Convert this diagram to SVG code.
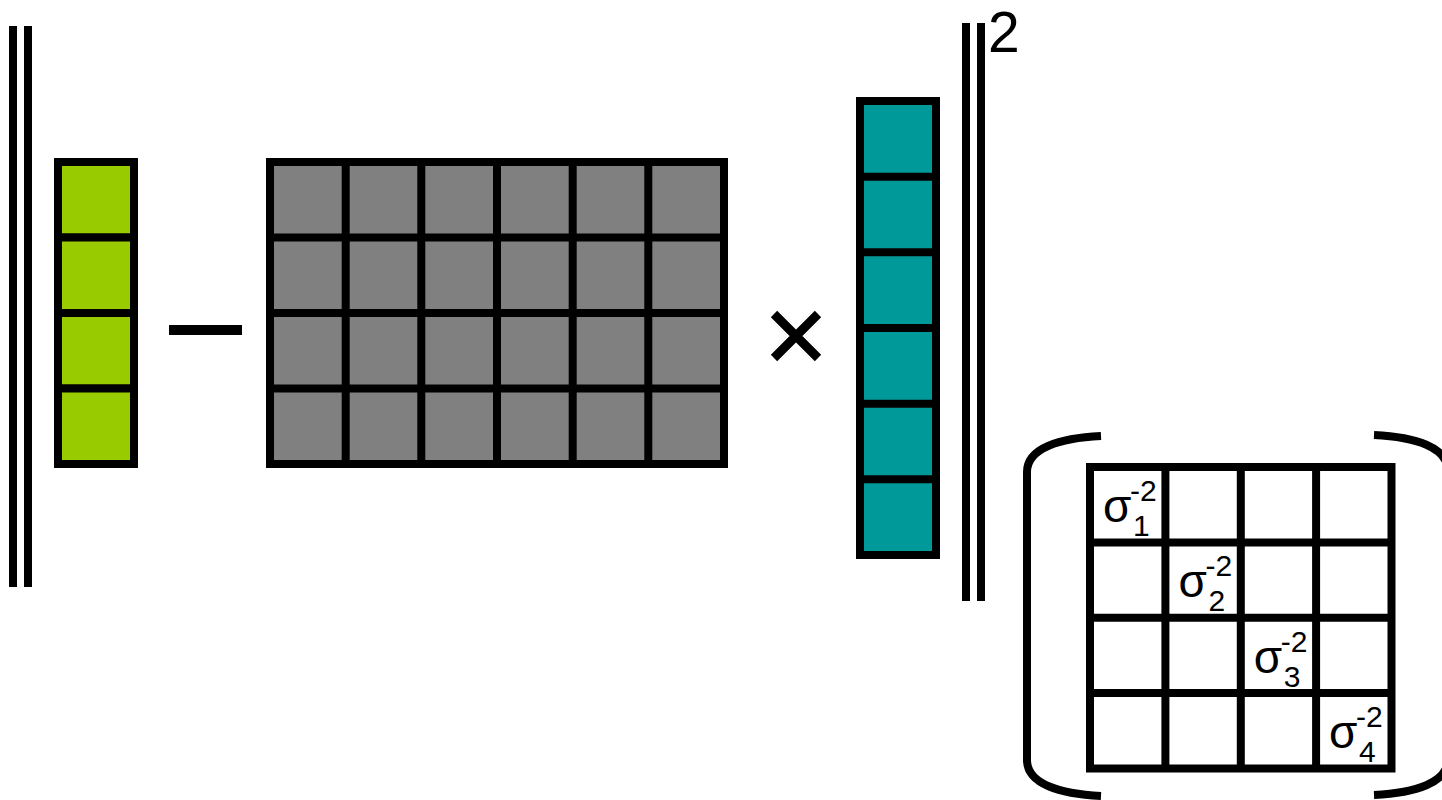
<svg xmlns="http://www.w3.org/2000/svg" width="1442" height="800" viewBox="0 0 1442 800">
<style>
.cell{stroke:#000;stroke-width:8}
.g{fill:#99cc00}
.gr{fill:#808080}
.t{fill:#009999}
.w{fill:#fff}
.bar{fill:#000}
.br{fill:none;stroke:#000;stroke-width:8}
.sig{font-family:"Liberation Sans",Arial,sans-serif;font-size:46px;fill:#000}
.scr{font-family:"Liberation Sans",Arial,sans-serif;font-size:30px;fill:#000}
.sq{font-family:"Liberation Sans",Arial,sans-serif;font-size:57px;fill:#000}
</style>
<rect width="1442" height="800" fill="#fff"/>
<g id="norm-left">
<rect class="bar" x="9" y="26" width="8" height="561"/>
<rect class="bar" x="24" y="26" width="8" height="561"/>
</g>
<g id="vector-y">
<rect class="cell g" x="58" y="162" width="76" height="75.5"/>
<rect class="cell g" x="58" y="237.5" width="76" height="75.5"/>
<rect class="cell g" x="58" y="313" width="76" height="75.5"/>
<rect class="cell g" x="58" y="388.5" width="76" height="75.5"/>
</g>
<g id="minus">
<rect x="169" y="325" width="73" height="10" fill="#000"/>
</g>
<g id="matrix-A">
<rect class="gr" x="270" y="162" width="454" height="302"/>
<path d="M270,162H724V464H270Z M345.7,162V464 M421.3,162V464 M497,162V464 M572.7,162V464 M648.3,162V464 M270,237.5H724 M270,313H724 M270,388.5H724" fill="none" stroke="#000" stroke-width="8"/>
</g>
<g id="times">
<path d="M774,314L818,358M818,314L774,358" stroke="#000" stroke-width="9" fill="none"/>
</g>
<g id="vector-x">
<rect class="t" x="860" y="101" width="76" height="454"/>
<path d="M860,101H936V555H860Z M860,176.7H936 M860,252.3H936 M860,328H936 M860,403.7H936 M860,479.3H936" fill="none" stroke="#000" stroke-width="8"/>
</g>
<g id="norm-right">
<rect class="bar" x="962" y="23" width="8" height="578"/>
<rect class="bar" x="977" y="23" width="8" height="578"/>
<text class="sq" x="988" y="52">2</text>
</g>
<g id="weight-matrix">
<path class="br" d="M1101,436C1060,438 1027,448 1027,472V760C1027,784 1060,794 1101,796"/>
<path class="br" d="M1374,435C1415,437 1448,447 1448,471V759C1448,783 1415,793 1374,795"/>
<rect class="w" x="1090" y="467" width="301.5" height="301.5"/>
<path d="M1090,467H1391.5V768.5H1090Z M1165.4,467V768.5 M1240.8,467V768.5 M1316.1,467V768.5 M1090,542.4H1391.5 M1090,617.8H1391.5 M1090,693.1H1391.5" fill="none" stroke="#000" stroke-width="8"/>
<text class="sig" x="1103" y="522">σ</text><text class="scr" x="1130" y="501">-2</text><text class="scr" x="1133" y="536">1</text>
<text class="sig" x="1178.4" y="597.4">σ</text><text class="scr" x="1205.4" y="576.4">-2</text><text class="scr" x="1208.4" y="611.4">2</text>
<text class="sig" x="1253.8" y="672.8">σ</text><text class="scr" x="1280.8" y="651.8">-2</text><text class="scr" x="1283.8" y="686.8">3</text>
<text class="sig" x="1329.1" y="748.1">σ</text><text class="scr" x="1356.1" y="727.1">-2</text><text class="scr" x="1359.1" y="762.1">4</text>
</g>
</svg>
